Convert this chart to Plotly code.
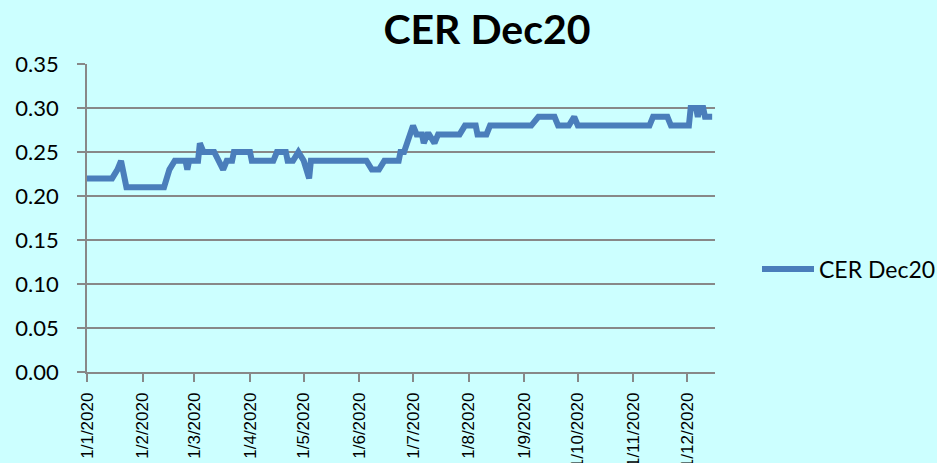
import plotly.graph_objects as go

series_name = "CER Dec20"
dates = [
    "2020-01-01", "2020-01-15", "2020-01-18", "2020-01-20", "2020-01-23",
    "2020-02-13", "2020-02-16", "2020-02-19", "2020-02-25", "2020-02-26",
    "2020-02-27", "2020-03-03", "2020-03-04", "2020-03-06", "2020-03-12",
    "2020-03-17", "2020-03-19", "2020-03-22", "2020-03-23", "2020-04-01",
    "2020-04-02", "2020-04-14", "2020-04-16", "2020-04-21", "2020-04-22",
    "2020-04-25", "2020-04-28", "2020-05-01", "2020-05-04", "2020-05-05",
    "2020-06-05", "2020-06-08", "2020-06-12", "2020-06-15", "2020-06-23",
    "2020-06-24", "2020-06-26", "2020-06-29", "2020-07-01", "2020-07-03",
    "2020-07-06", "2020-07-07", "2020-07-09", "2020-07-10", "2020-07-13",
    "2020-07-15", "2020-07-27", "2020-07-30", "2020-08-05", "2020-08-06",
    "2020-08-11", "2020-08-13", "2020-09-05", "2020-09-09", "2020-09-18",
    "2020-09-20", "2020-09-26", "2020-09-29", "2020-10-01", "2020-11-10",
    "2020-11-12", "2020-11-20", "2020-11-22", "2020-12-02", "2020-12-03",
    "2020-12-06", "2020-12-07", "2020-12-08", "2020-12-10", "2020-12-11",
    "2020-12-15",
]
values = [
    0.22, 0.22, 0.23, 0.24, 0.21,
    0.21, 0.23, 0.24, 0.24, 0.23,
    0.24, 0.24, 0.26, 0.25, 0.25,
    0.23, 0.24, 0.24, 0.25, 0.25,
    0.24, 0.24, 0.25, 0.25, 0.24,
    0.24, 0.25, 0.24, 0.22, 0.24,
    0.24, 0.23, 0.23, 0.24, 0.24,
    0.25, 0.25, 0.27, 0.28, 0.27,
    0.27, 0.26, 0.27, 0.27, 0.26,
    0.27, 0.27, 0.28, 0.28, 0.27,
    0.27, 0.28, 0.28, 0.29, 0.29,
    0.28, 0.28, 0.29, 0.28, 0.28,
    0.29, 0.29, 0.28, 0.28, 0.30,
    0.30, 0.29, 0.30, 0.30, 0.29,
    0.29,
]
y_ticks = [0.00, 0.05, 0.10, 0.15, 0.20, 0.25, 0.30, 0.35]

line_color = "#4A7EBB"
bg = "#CCFFFF"
grid = "#888888"

W, H = 937, 463
L, R, T, B = 87, 222, 64, 91
pw, ph = W - L - R, H - T - B

fig = go.Figure()
fig.add_trace(go.Scatter(
    x=dates, y=values, mode="lines", name=series_name,
    line=dict(color=line_color, width=6), showlegend=False,
))

def px_x(p):
    return (p - L) / pw

def px_y(p):
    return (H - B - p) / ph

fig.update_layout(
    width=W, height=H,
    margin=dict(l=L, r=R, t=T, b=B, autoexpand=False),
    paper_bgcolor=bg, plot_bgcolor=bg,
    title=dict(text="<b>CER Dec20</b>", x=487 / W, xanchor="center",
               y=1 - 30 / H, yanchor="middle", yref="container",
               font=dict(family="Lato", size=41, color="#000000")),
    xaxis=dict(
        type="date", range=["2020-01-01", "2020-12-16 14:00"],
        tick0="2020-01-01", dtick="M1", tickformat="%-d/%-m/%Y",
        tickangle=-90, ticks="outside", ticklen=8, tickcolor=grid, tickwidth=1.5,
        showgrid=False, showline=True, linecolor=grid, linewidth=1.5,
        tickfont=dict(family="Liberation Sans", size=17, color="#000000"),
        ticklabelstandoff=4, zeroline=False, automargin=False,
    ),
    yaxis=dict(
        range=[0, 0.35], tickvals=y_ticks, tickformat=".2f",
        ticks="outside", ticklen=8, tickcolor=grid, tickwidth=1.5,
        showgrid=True, gridcolor=grid, gridwidth=1.5,
        showline=True, linecolor=grid, linewidth=1.5, zeroline=False,
        tickfont=dict(family="Lato", size=22, color="#000000"),
        ticklabelstandoff=14, automargin=False,
    ),
)

# legend drawn manually to match the long line sample
fig.add_shape(type="line", xref="paper", yref="paper",
              x0=px_x(762), x1=px_x(814), y0=px_y(269), y1=px_y(269),
              line=dict(color=line_color, width=6))
fig.add_annotation(xref="paper", yref="paper", x=px_x(817), y=px_y(269),
                   xanchor="left", yanchor="middle", showarrow=False,
                   text=series_name,
                   font=dict(family="Lato", size=23, color="#000000"))

fig.write_html(
    "out.html",
    config={"displayModeBar": False},
    post_script="document.body.style.margin='0';document.body.style.overflow='hidden';",
)
